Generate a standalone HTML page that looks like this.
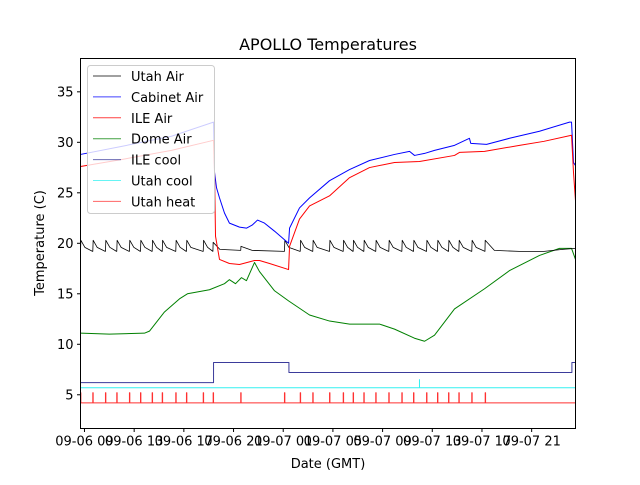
<!DOCTYPE html>
<html><head><meta charset="utf-8"><style>
body{margin:0;background:#fff;}
svg text{font-family:"DejaVu Sans","Liberation Sans",sans-serif;fill:#000;}
</style></head><body>
<svg id="chart" width="640" height="480" xmlns="http://www.w3.org/2000/svg">
<rect width="640" height="480" fill="#fff"/>
<text x="328" y="50" font-size="16" text-anchor="middle">APOLLO Temperatures</text>
<text x="328" y="468" font-size="13" text-anchor="middle">Date (GMT)</text>
<text transform="translate(44,243) rotate(-90)" font-size="13" text-anchor="middle">Temperature (C)</text>
<g id="ticks"></g>
<g id="series"></g>
<rect x="80.5" y="58.5" width="495" height="370" fill="none" stroke="#000" stroke-width="1"/>
<g id="legend"></g>
</svg>
<script>
// hours since 09-06 00:00 GMT
const xDomain = [8.68, 48.53];
const yDomain = [1.66, 38.3];
const yTicks = [5, 10, 15, 20, 25, 30, 35];
const xTickHours = [9, 13, 17, 21, 25, 29, 33, 37, 41, 45];
const xTickLabels = ["09-06 09","09-06 13","09-06 17","09-06 21","09-07 01","09-07 05","09-07 09","09-07 13","09-07 17","09-07 21"];

const heatSpikeHours = [8.68,9.67,10.69,11.6,12.62,13.51,14.45,15.26,16.35,17.21,18.56,19.36,21.58,25.1,26.37,27.38,28.73,29.83,30.63,31.49,32.45,33.5,34.55,35.49,36.54,37.42,38.31,39.14,40.18,41.26];
const utahAirPeak = 20.3;
const utahAirTrough = 19.2;
const utahAirTail = [[41.26,20.3],[42.0,19.3],[44,19.2],[46,19.2],[47.5,19.4],[48.53,19.5]];
const utahAirFlat = [[19.36,20.1],[19.9,19.4],[21.58,19.3],[21.6,19.7],[22.5,19.3],[25.1,19.2]];

const cabinetAir = [[8.68,28.8],[12,29.6],[16,30.6],[19.39,32],[19.47,27],[19.63,25.5],[19.87,24.5],[20.27,23],[20.67,22],[21.48,21.6],[22.04,21.5],[22.5,21.8],[22.93,22.3],[23.49,22],[24.3,21.2],[25.43,20],[25.51,21.5],[26.31,23.5],[27.12,24.5],[28.73,26.2],[30.34,27.3],[31.95,28.2],[33.96,28.8],[35.17,29.1],[35.57,28.7],[36.38,28.9],[37.18,29.2],[38.79,29.7],[39.99,30.4],[40.1,29.9],[41.37,29.8],[43.22,30.4],[45.63,31.1],[48.05,32],[48.21,32],[48.37,28],[48.53,27.7]];
const ileAir = [[8.68,27.6],[12,28.3],[16,29.2],[19.39,30.2],[19.47,27],[19.55,20.7],[19.87,18.4],[20.67,18],[21.48,17.9],[22.69,18.3],[23.09,18.3],[23.9,18],[25.43,17.4],[25.51,19.7],[26.31,22.4],[27.12,23.7],[28.73,24.7],[30.34,26.5],[31.95,27.5],[33.96,28],[35.97,28.1],[38.79,28.7],[39.19,29],[41.21,29.1],[44.02,29.7],[46,30.1],[48.21,30.7],[48.37,27],[48.53,24.2]];
const domeAir = [[8.68,11.1],[11,11],[13.83,11.1],[14.23,11.3],[15.44,13.2],[16.65,14.5],[17.29,15],[19.06,15.4],[20.27,16],[20.67,16.4],[21.16,16],[21.64,16.6],[22.04,16.3],[22.69,18.1],[23.09,17.2],[24.3,15.3],[25.43,14.3],[27.12,12.9],[28.73,12.3],[30.34,12],[32.75,12],[33.96,11.5],[35.57,10.6],[36.38,10.3],[37.18,10.9],[38.79,13.5],[41.21,15.5],[43.22,17.3],[45.63,18.8],[47.24,19.5],[48.21,19.5],[48.53,18.4]];
const ileCool = [[8.68,6.2],[19.39,6.2],[19.39,8.2],[25.46,8.2],[25.46,7.2],[48.24,7.2],[48.24,8.2],[48.53,8.2]];
const utahCool = [[8.68,5.7],[35.97,5.7],[35.97,6.5],[35.97,5.7],[48.53,5.7]];
const utahHeatBase = 4.2;
const utahHeatOn = 5.2;

const L=80.5,R=575.5,T=58.5,B=428.5;
const xs=h=>L+(h-xDomain[0])/(xDomain[1]-xDomain[0])*(R-L);
const ys=v=>B-(v-yDomain[0])/(yDomain[1]-yDomain[0])*(B-T);
const NS="http://www.w3.org/2000/svg";
const tg=document.getElementById('ticks'), sg=document.getElementById('series'), lg=document.getElementById('legend');
function mk(tag,attrs,parent){const e=document.createElementNS(NS,tag);for(const k in attrs)e.setAttribute(k,attrs[k]);parent.appendChild(e);return e;}

yTicks.forEach(v=>{
  const y=ys(v);
  const t=mk('line',{x1:L-3.5,x2:L,y1:y,y2:y,stroke:'#000'},tg);
  
  
  const tx=mk('text',{x:L-7,y:y+4.5,'font-size':13,'text-anchor':'end'},tg);
  tx.textContent=v;
  
  
});
xTickHours.forEach((h,i)=>{
  const x=xs(h);
  const t=mk('line',{x1:x,x2:x,y1:B,y2:B+3.5,stroke:'#000'},tg);
  
  
  const tx=mk('text',{x:x,y:B+17,'font-size':13,'text-anchor':'middle'},tg);
  tx.textContent=xTickLabels[i];
  
  
});

function poly(pts,color,name,w){
  const d=pts.map((p,i)=>(i?'L':'M')+xs(p[0]).toFixed(2)+' '+ys(p[1]).toFixed(2)).join(' ');
  const p=mk('path',{d:d,fill:'none',stroke:color,'stroke-width':w||1,'stroke-linejoin':'round'},sg);
  
  
}

// Utah Air sawtooth built from heat spike times
const utahAir=[];
for(let i=0;i<heatSpikeHours.length-1;i++){
  const a=heatSpikeHours[i], b=heatSpikeHours[i+1];
  if(a>=19.36 && b<=25.1) continue;
  utahAir.push([a,utahAirTrough],[a+0.03,utahAirPeak],[a+0.35,19.6],[b-0.02,utahAirTrough]);
}
const utahAirAll=utahAir.filter(p=>p[0]<19.36).concat(utahAirFlat).concat(utahAir.filter(p=>p[0]>=25.1)).concat(utahAirTail);
utahAirAll.sort((p,q)=>p[0]-q[0]);

const utahHeat=[[heatSpikeHours[0],3.2],[heatSpikeHours[0],utahHeatOn]];
heatSpikeHours.forEach(h=>{utahHeat.push([h,utahHeatBase],[h,utahHeatOn],[h+0.03,utahHeatOn],[h+0.03,utahHeatBase]);});
utahHeat.push([xDomain[1],utahHeatBase]);

poly(ileCool,'#3b3b9b','ile-cool-line');
poly(utahCool,'#33f0f0','utah-cool-line');
poly(utahHeat,'#ff3030','utah-heat-line');
poly(domeAir,'#008000','dome-air-line');
poly(utahAirAll,'#000','utah-air-line',0.8);
poly(cabinetAir,'#0000ff','cabinet-air-line');
poly(ileAir,'#ff0000','ile-air-line');

// legend
const lb=mk('rect',{x:87.5,y:65.5,width:127,height:148,rx:3,fill:'#fff','fill-opacity':0.8,stroke:'#ccc'},lg);


const legNames=['Utah Air','Cabinet Air','ILE Air','Dome Air','ILE cool','Utah cool','Utah heat'];
const legColors=['#000','#0000ff','#ff0000','#008000','#3b3b9b','#33f0f0','#ff3030'];
legNames.forEach((n,i)=>{
  const y=76+i*20.9;
  const g=mk('g',{},lg);
  
  
  mk('line',{x1:93,x2:121,y1:y,y2:y,stroke:legColors[i],'stroke-opacity':0.75},g);
  const t=mk('text',{x:131,y:y+5,'font-size':13},g);
  t.textContent=n;
});
</script>
</body></html>
